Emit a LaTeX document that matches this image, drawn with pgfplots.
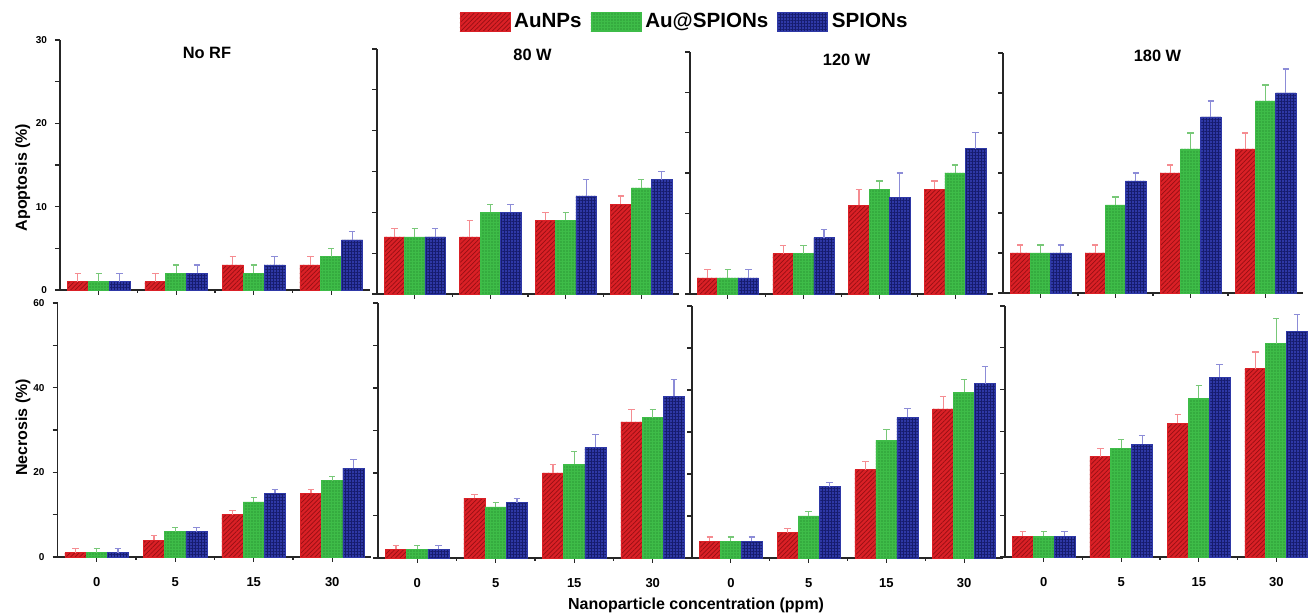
\documentclass[border=0pt]{standalone}
\usepackage{pgfplots}
\pgfplotsset{compat=1.18}
\usepackage{pgfplotstable}
\usepackage{fontspec}
\setmainfont{Liberation Sans}
\usetikzlibrary{patterns.meta}

\definecolor{cR}{RGB}{218,32,38}
\definecolor{cRd}{RGB}{150,15,20}
\definecolor{cG}{RGB}{62,188,72}
\definecolor{cGd}{RGB}{25,115,35}
\definecolor{cB}{RGB}{46,56,166}
\definecolor{cBd}{RGB}{22,28,110}
\definecolor{eR}{RGB}{245,140,145}
\definecolor{eG}{RGB}{120,200,120}
\definecolor{eB}{RGB}{140,140,215}

% Apoptosis
\pgfplotstableread{
x a ae b be c ce
0 1 1 1 1 1 1
1 1 1 2 1 2 1
2 3 1 2 1 3 1
3 3 1 4 1 6 1
}\apA
\pgfplotstableread{
x a ae b be c ce
0 7 1 7 1 7 1
1 7 2 10 1 10 1
2 9 1 9 1 12 2
3 11 1 13 1 14 1
}\apB
\pgfplotstableread{
x a ae b be c ce
0 2 1 2 1 2 1
1 5 1 5 1 7 1
2 11 2 13 1 12 3
3 13 1 15 1 18 2
}\apC
\pgfplotstableread{
x a ae b be c ce
0 5 1 5 1 5 1
1 5 1 11 1 14 1
2 15 1 18 2 22 2
3 18 2 24 2 25 3
}\apD
% Necrosis
\pgfplotstableread{
x a ae b be c ce
0 1 1 1 1 1 1
1 4 1 6 1 6 1
2 10 1 13 1 15 1
3 15 1 18 1 21 2
}\neA
\pgfplotstableread{
x a ae b be c ce
0 2 1 2 1 2 1
1 14 1 12 1 13 1
2 20 2 22 3 26 3
3 32 3 33 2 38 4
}\neB
\pgfplotstableread{
x a ae b be c ce
0 4 1 4 1 4 1
1 6 1 10 1 17 1
2 21 2 28 2.5 33.5 2
3 35.5 3 39.5 3 41.5 4
}\neC
\pgfplotstableread{
x a ae b be c ce
0 5 1 5 1 5 1
1 24 2 26 2 27 2
2 32 2 38 3 43 3
3 45 4 51 6 54 4
}\neD

\pgfplotsset{
  base/.style={
    scale only axis, ybar, bar width=0.27,
    xmin=-0.5, xmax=3.5, enlargelimits=false, ymin=0,
    axis x line*=bottom, axis y line*=left,
    axis line style={-, line width=0.75pt, black!85},
    tick style={line width=0.6pt, black!85},
    tick align=outside,
    xtick={0,1,2,3}, minor xtick={0.5,1.5,2.5},
    major tick length=2.5pt, minor tick length=1.5pt,
    xticklabel style={font=\bfseries\fontsize{6.5}{7}\selectfont, yshift=-4pt},
    yticklabel style={font=\bfseries\fontsize{5}{6}\selectfont, xshift=-0.5pt},
    title style={font=\bfseries\fontsize{8.2}{9}\selectfont, anchor=center},
    label style={font=\bfseries\fontsize{8}{9}\selectfont},
    clip=false,
  },
  toprow/.style={ymax=30, ytick={0,5,...,30}, yticklabels={0,,10,,20,,30}, xticklabels={}},
  botrow/.style={ymax=60, ytick={0,10,...,60}, yticklabels={0,,20,,40,,60}, xticklabels={0,5,15,30}},
  noylab/.style={yticklabels={}},
  redbar/.style={fill=cR, draw=cR, line width=0.3pt,
    postaction={pattern={Lines[angle=45,distance=1.6pt,line width=0.35pt]}, pattern color=cRd},
    error bars/y dir=plus, error bars/y explicit, error bars/error mark=-,
    error bars/error bar style={color=eR, line width=0.6pt},
    error bars/error mark options={rotate=90, color=eR, mark size=1.6pt, line width=0.6pt}},
  greenbar/.style={fill=cG, draw=cG, line width=0.3pt,
    postaction={pattern={Dots[distance=1.5pt,radius=0.35pt]}, pattern color=cGd},
    error bars/y dir=plus, error bars/y explicit, error bars/error mark=-,
    error bars/error bar style={color=eG, line width=0.6pt},
    error bars/error mark options={rotate=90, color=eG, mark size=1.6pt, line width=0.6pt}},
  bluebar/.style={fill=cB, draw=cB, line width=0.3pt,
    postaction={pattern={Hatch[angle=0,distance=1.5pt,line width=0.3pt]}, pattern color=cBd},
    error bars/y dir=plus, error bars/y explicit, error bars/error mark=-,
    error bars/error bar style={color=eB, line width=0.6pt},
    error bars/error mark options={rotate=90, color=eB, mark size=1.6pt, line width=0.6pt}},
}

\newcommand{\bars}[1]{%
  \addplot[bar shift=-0.27, redbar] table[x=x, y=a, y error plus=ae] {#1};
  \addplot[bar shift=0, greenbar] table[x=x, y=b, y error plus=be] {#1};
  \addplot[bar shift=0.27, bluebar] table[x=x, y=c, y error plus=ce] {#1};
}

\begin{document}
\begin{tikzpicture}
\useasboundingbox (0,0) rectangle (654pt,307pt);

% ---------- top row ----------
\begin{axis}[base, toprow, at={(30pt,162pt)}, anchor=south west, width=155pt, height=125pt,
  title={No RF}, title style={at={(axis description cs:0.474,0.90)}},
  ylabel={Apoptosis (\%)}, ylabel style={at={(axis description cs:-0.12,0.45)}, anchor=center}]
\bars{\apA}
\end{axis}

\begin{axis}[base, toprow, noylab, at={(188.5pt,160pt)}, anchor=south west, width=151pt, height=122.5pt,
  title={80 W}, title style={at={(axis description cs:0.515,0.928)}},
  legend style={at={(axis description cs:1.02,1.11)}, anchor=center, draw=none, fill=none,
    font=\bfseries\fontsize{10.3}{12}\selectfont, inner sep=0pt,
    /tikz/every odd column/.style={column sep=0.5pt},
    /tikz/every even column/.style={column sep=3pt},
    nodes={inner sep=1.5pt}},
  legend columns=3,
  legend image code/.code={\draw[#1] (0pt,-4.75pt) rectangle (25pt,4.75pt);}]
\bars{\apB}
\legend{AuNPs, Au@SPIONs, SPIONs}
\end{axis}

\begin{axis}[base, toprow, noylab, at={(345pt,160pt)}, anchor=south west, width=151.5pt, height=121pt,
  title={120 W}, title style={at={(axis description cs:0.517,0.92)}}]
\bars{\apC}
\end{axis}

\begin{axis}[base, toprow, noylab, at={(501.5pt,160.5pt)}, anchor=south west, width=150pt, height=120pt,
  title={180 W}, title style={at={(axis description cs:0.515,0.936)}}]
\bars{\apD}
\end{axis}

% ---------- bottom row ----------
\begin{axis}[base, botrow, at={(28.75pt,28.5pt)}, anchor=south west, width=157pt, height=127pt,
  ylabel={Necrosis (\%)}, ylabel style={at={(axis description cs:-0.11,0.51)}, anchor=center}]
\bars{\neA}
\end{axis}

\begin{axis}[base, botrow, noylab, at={(189pt,28pt)}, anchor=south west, width=157pt, height=127.5pt,
  xlabel={Nanoparticle concentration (ppm)},
  xlabel style={at={(axis description cs:1.013,-0.185)}, anchor=center}]
\bars{\neB}
\end{axis}

\begin{axis}[base, botrow, noylab, at={(346pt,28pt)}, anchor=south west, width=155.5pt, height=126pt]
\bars{\neC}
\end{axis}

\begin{axis}[base, botrow, noylab, at={(502.5pt,28.5pt)}, anchor=south west, width=155pt, height=125.5pt]
\bars{\neD}
\end{axis}
\end{tikzpicture}
\end{document}
